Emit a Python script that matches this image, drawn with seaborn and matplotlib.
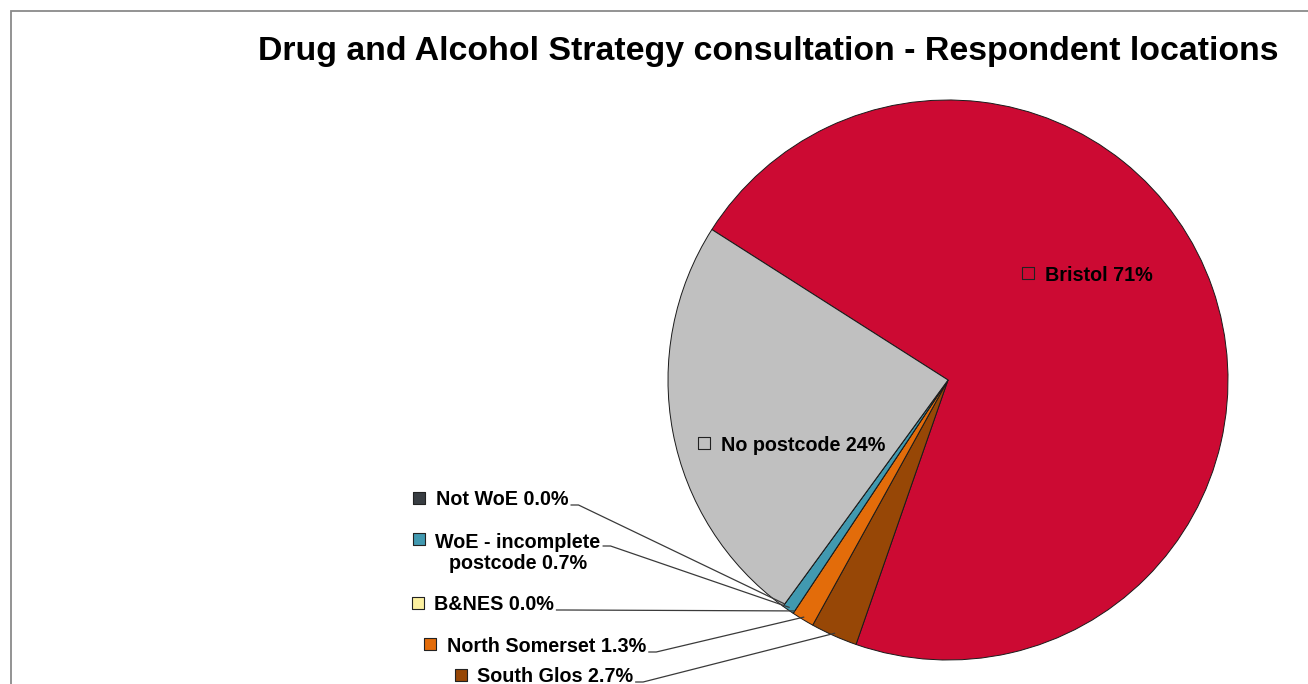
import matplotlib
matplotlib.use("Agg")
import matplotlib.pyplot as plt
import numpy as np
import seaborn as sns
from matplotlib.patches import Rectangle

sns.set_theme(style="white")
plt.rcParams["font.family"] = ["Liberation Sans", "DejaVu Sans"]

# Respondent locations, in clockwise order from the top-left edge of Bristol
categories = ["Bristol", "South Glos", "North Somerset", "B&NES",
              "WoE - incomplete\npostcode", "Not WoE", "No postcode"]
shares = [71.3, 2.7, 1.3, 0.0, 0.7, 0.0, 24.0]
share_labels = ["71%", "2.7%", "1.3%", "0.0%", "0.7%", "0.0%", "24%"]
colors = ["#CC0A33", "#974706", "#E36C0A", "#FDF1A0",
          "#4199B0", "#383D42", "#C0C0C0"]

W, H, DPI = 1308, 684, 100
fig = plt.figure(figsize=(W / DPI, H / DPI), dpi=DPI)
ax = fig.add_axes([0, 0, 1, 1])

# pie geometry in pixels: centre and radius
CX, CY, R = 948, 380, 280


def px(x, y):
    """Pixel position (from top-left) to data coordinates of the pie axes."""
    return (x - CX) / R, (CY - y) / R


wedges, _ = ax.pie(shares, colors=colors, startangle=147.5, counterclock=False,
                   radius=1.0, center=(0, 0),
                   wedgeprops=dict(edgecolor="#1a1a1a", linewidth=0.7))
ax.set_xlim(px(0, 0)[0], px(W, 0)[0])
ax.set_ylim(px(0, H)[1], px(0, 0)[1])
ax.set_aspect("auto")
ax.axis("off")

label_font = dict(fontsize=14.2, fontweight="bold", color="black")

# label layout: (square centre x, square centre y, text x, baseline y of the
# last text line, baseline y of the first text line, align)
layout = {
    "Bristol": (1028, 273, 1045, 281, 281, "left"),
    "No postcode": (704, 443, 721, 451, 451, "left"),
    "Not WoE": (419, 498, 436, 505, 505, "left"),
    "WoE - incomplete\npostcode": (419, 539, 518, 569, 546, "center"),
    "B&NES": (418, 603, 434, 610, 610, "left"),
    "North Somerset": (430, 644, 447, 652, 652, "left"),
    "South Glos": (461, 675, 477, 682, 682, "left"),
}

renderer = fig.canvas.get_renderer()
for cat, val, lab, col, w in zip(categories, shares, share_labels, colors, wedges):
    sx, sy, tx, ty, ty1, ha = layout[cat]
    mx, my = px(sx, sy)
    ax.scatter([mx], [my], marker="s", s=70, color=col,
               edgecolor="#222222", linewidth=0.8, zorder=5)
    x, y = px(tx, ty)
    t = ax.text(x, y, f"{cat} {lab}", ha=ha, va="baseline",
                multialignment="center", linespacing=1.1, **label_font)
    if cat in ("Bristol", "No postcode"):
        continue
    # leader line from the end of the first text line to the slice edge
    bb = t.get_window_extent(renderer)
    if "\n" in cat:
        first = ax.text(0, 0, cat.split("\n")[0], **label_font)
        fw = first.get_window_extent(renderer).width
        first.remove()
        x_end_px = (bb.x0 + bb.x1) / 2 + fw / 2
    else:
        x_end_px = bb.x1
    x0_pix = x_end_px + 2
    sx0 = (x0_pix - CX) / R
    y1 = px(0, ty1)[1]
    mid = np.deg2rad((w.theta1 + w.theta2) / 2)
    ex, ey = 0.99 * np.cos(mid), 0.99 * np.sin(mid)
    ax.plot([sx0, sx0 + 8 / R, ex], [y1, y1, ey], color="#3a3a3a",
            linewidth=0.9, solid_capstyle="butt", zorder=1)

# title
tx, ty = px(768, 60)
ax.text(tx, ty, "Drug and Alcohol Strategy consultation - Respondent locations",
        ha="center", va="baseline", fontsize=24.4, fontweight="bold",
        color="black")

# chart frame, running past the right and bottom edges
fig.add_artist(Rectangle((11 / W, -0.1), 2, 1 - 11 / H + 0.1,
                         transform=fig.transFigure, fill=False,
                         edgecolor="#8a8a8a", linewidth=1.3))

fig.savefig("out.png", dpi=DPI)
